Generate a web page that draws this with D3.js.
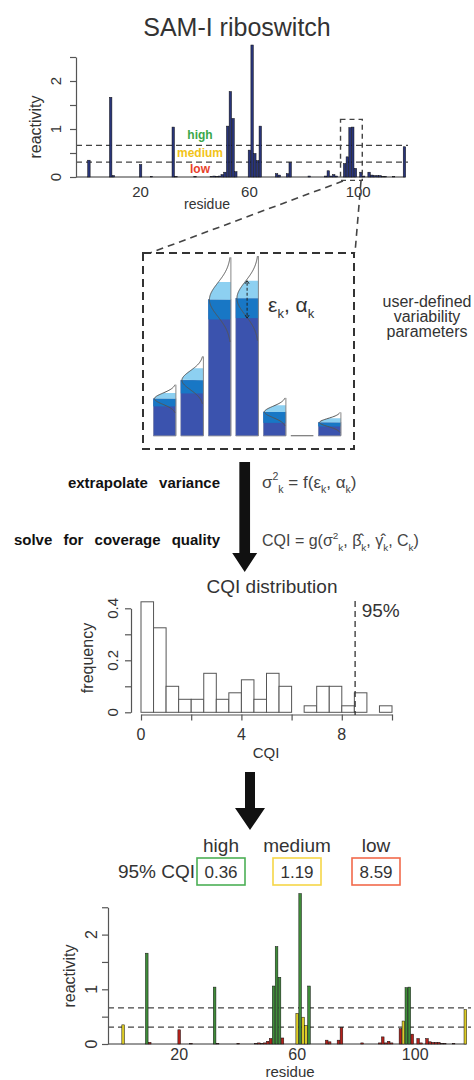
<!DOCTYPE html>
<html>
<head>
<meta charset="UTF-8">
<title>SAM-I riboswitch CQI</title>
<script src="https://d3js.org/d3.v7.min.js"></script>
<style>
  body { margin: 0; background: #fff; }
  svg text { font-family: "Liberation Sans", Arial, Helvetica, sans-serif; fill: #333; }
</style>
</head>
<body>
<svg width="474" height="1080"></svg>
<script>
// reactivity per residue, residues 1..117
var residues = d3.range(1, 118);
var reactivity = [
  0.35, 0, 0, 0, 0, 0, 0, 0, 1.66, 0.03,
  0, 0, 0, 0, 0, 0, 0, 0, 0, 0.26,
  0, 0, 0, 0.01, 0, 0, 0, 0, 0, 0,
  0, 1.04, 0.01, 0, 0, 0, 0, 0, 0, 0.01,
  0, 0, 0, 0, 0, 0.01, 0.02, 0.01, 0.02, 0.05,
  0.1, 1.06, 1.78, 1.22, 0.11, 0, 0, 0, 0, 0.56,
  2.75, 0.49, 0.34, 1.06, 0, 0, 0, 0, 0, 0.07,
  0.04, 0, 0, 0.07, 0.3, 0, 0, 0, 0, 0,
  0, 0.02, 0, 0, 0, 0, 0, 0.02, 0.13, 0.02,
  0.05, 0.02, 0, 0, 0.28, 0.42, 1.03, 1.04, 0.18, 0,
  0.1, 0.02, 0, 0.1, 0.04, 0.03, 0.03, 0.03, 0.01, 0.01,
  0, 0, 0.01, 0, 0, 0, 0.63
];
var highCut = 0.66, lowCut = 0.31;
var reactTicks = [0, 0.5, 1, 1.5, 2, 2.5];
var reactLabels = [0, 1, 2];
var residueLabels = [20, 60, 100];

// zoomed residues and their user-defined variability (reactivity units)
var insetResidues = [95, 96, 97, 98, 99, 100, 101];
var insetLight = [0.043, 0.09, 0.133, 0.133, 0.05, 0, 0.033];
var insetMid = [0.058, 0.1, 0.15, 0.15, 0.083, 0, 0.03];
var insetSpread = [0.106, 0.18, 0.32, 0.32, 0.106, 0, 0.076];

// CQI histogram, bins of 0.5 from 0 to 10
var cqiBinStarts = d3.range(0, 10, 0.5);
var cqiFreq = [0.425, 0.325, 0.1, 0.05, 0.05, 0.15, 0.05, 0.075, 0.125, 0.05,
               0.15, 0.1, 0, 0.025, 0.1, 0.1, 0.025, 0.075, 0, 0.025];
var cqi95 = 8.59;
var cqiTicks = [0, 2, 4, 6, 8, 10];
var cqiLabels = [0, 4, 8];
var freqTicks = [0, 0.1, 0.2, 0.3, 0.4];
var freqLabels = ["0", "0.2", "0.4"];

var qualityNames = ["high", "medium", "low"];
var qualityCQI = ["0.36", "1.19", "8.59"];

var svg = d3.select("svg");

function qualityColor(v) {
  if (v >= highCut) return "#3f8c39";
  if (v >= lowCut) return "#dccb26";
  return "#b5211b";
}

function rich(parent, x, y, parts, size, opts) {
  opts = opts || {};
  var t = parent.append("text").attr("x", x).attr("y", y).attr("font-size", size);
  if (opts.anchor) t.attr("text-anchor", opts.anchor);
  if (opts.fill) t.style("fill", opts.fill);
  var prev = 0;
  parts.forEach(function (p) {
    var s = p[1] === "sub" ? size * 0.3 : p[1] === "sup" ? -size * 0.45 : 0;
    t.append("tspan").text(p[0]).attr("dy", s - prev)
      .attr("font-size", p[1] ? size * 0.62 : size);
    prev = s;
  });
  return t;
}

function arrow(cx, y0, yHead, yTip, shaftW, headW) {
  svg.append("path")
    .attr("d", "M" + (cx - shaftW / 2) + "," + y0 + "H" + (cx + shaftW / 2) + "V" + yHead +
      "H" + (cx + headW / 2) + "L" + cx + "," + yTip + "L" + (cx - headW / 2) + "," + yHead +
      "H" + (cx - shaftW / 2) + "Z")
    .attr("fill", "#111");
}

function reactivityPlot(o) {
  var g = svg.append("g");
  var x = o.x, y = o.y;
  var bw = (x(2) - x(1)) * 0.9;

  [highCut, lowCut].forEach(function (c) {
    g.append("line").attr("x1", o.axisX).attr("x2", o.lineEnd)
      .attr("y1", y(c)).attr("y2", y(c))
      .attr("stroke", "#444").attr("stroke-width", 1.3).attr("stroke-dasharray", "6,4");
  });

  g.append("line").attr("x1", o.axisX).attr("x2", x(residues[residues.length - 1]) + bw / 2)
    .attr("y1", y(0)).attr("y2", y(0)).attr("stroke", "#333").attr("stroke-width", 1);

  g.selectAll("rect.bar").data(residues).join("rect")
    .attr("class", "bar")
    .attr("x", function (r) { return x(r) - bw / 2; })
    .attr("width", bw)
    .attr("y", function (r, i) { return y(reactivity[i]); })
    .attr("height", function (r, i) { return y(0) - y(reactivity[i]); })
    .attr("fill", function (r, i) { return o.color(reactivity[i]); })
    .attr("stroke", "#111").attr("stroke-width", 0.5);

  g.append("g").attr("transform", "translate(" + o.axisX + ",0)")
    .call(d3.axisLeft(y).tickValues(reactTicks).tickSize(6).tickSizeOuter(0).tickFormat(""))
    .call(function (a) { a.selectAll("path, line").attr("stroke", "#555").attr("stroke-width", 1.2); });

  reactLabels.forEach(function (v) {
    g.append("text").attr("transform", "translate(" + o.yLabX + "," + y(v) + ") rotate(-90)")
      .attr("text-anchor", "middle").attr("font-size", o.tickSize).text(v);
  });
  residueLabels.forEach(function (v) {
    g.append("text").attr("x", x(v)).attr("y", o.xLabY)
      .attr("text-anchor", "middle").attr("font-size", o.tickSize).text(v);
  });
  g.append("text").attr("transform", "translate(" + o.titleYX + "," + o.titleYY + ") rotate(-90)")
    .attr("text-anchor", "middle").attr("font-size", 16).text("reactivity");
  g.append("text").attr("x", o.titleXX).attr("y", o.titleXY)
    .attr("text-anchor", "middle").attr("font-size", o.titleXSize).text("residue");
  return g;
}

// ---- top panel
svg.append("text").attr("x", 237).attr("y", 36).attr("text-anchor", "middle")
  .attr("font-size", 25).text("SAM-I riboswitch");

var xTop = d3.scaleLinear().domain([0, 120]).range([86.2, 412.6]);
var yTop = d3.scaleLinear().domain([0, 2.5]).range([177, 57]);
var topPanel = reactivityPlot({
  x: xTop, y: yTop, axisX: 76, lineEnd: 408,
  color: function () { return "#29357a"; },
  yLabX: 61, xLabY: 197, tickSize: 15,
  titleYX: 41, titleYY: 127, titleXX: 207, titleXY: 208.5, titleXSize: 14
});

[["high", 138.5, "#3aa84a"], ["medium", 156.5, "#f2c318"], ["low", 172.5, "#e8402a"]]
  .forEach(function (d) {
    topPanel.append("text").attr("x", 200).attr("y", d[1]).attr("text-anchor", "middle")
      .attr("font-size", 12).attr("font-weight", "bold").style("fill", d[2]).text(d[0]);
  });

// zoom box and guides
topPanel.append("rect").attr("x", xTop(93.5)).attr("y", yTop(1.2))
  .attr("width", xTop(101.5) - xTop(93.5)).attr("height", yTop(-0.07) - yTop(1.2))
  .attr("fill", "none").attr("stroke", "#444").attr("stroke-width", 1.4).attr("stroke-dasharray", "5,4");
svg.append("line").attr("x1", 343).attr("y1", 181).attr("x2", 150).attr("y2", 253)
  .attr("stroke", "#444").attr("stroke-width", 1.6).attr("stroke-dasharray", "7,5");
svg.append("line").attr("x1", 361).attr("y1", 181).attr("x2", 355).attr("y2", 253)
  .attr("stroke", "#444").attr("stroke-width", 1.6).attr("stroke-dasharray", "7,5");
svg.append("rect").attr("x", 143).attr("y", 253).attr("width", 211).attr("height", 196)
  .attr("fill", "none").attr("stroke", "#333").attr("stroke-width", 2).attr("stroke-dasharray", "8,5");

// ---- inset with variability
var insetX = d3.scaleBand().domain(d3.range(insetResidues.length)).range([153.3, 340.9]).paddingInner(0.178);
var insetY = d3.scaleLinear().domain([0, 1]).range([435.7, 303.6]);
var pxPerUnit = insetY(0) - insetY(1);
var inset = svg.append("g");

insetResidues.forEach(function (r, i) {
  var v = reactivity[r - 1];
  var left = insetX(i), w = insetX.bandwidth(), right = left + w;
  var topY = insetY(v);
  inset.append("line").attr("x1", left).attr("x2", right).attr("y1", insetY(0)).attr("y2", insetY(0))
    .attr("stroke", "#777").attr("stroke-width", 1.2);
  if (v === 0) return;
  var lightPx = insetLight[i] * pxPerUnit, midPx = insetMid[i] * pxPerUnit;
  var E = insetSpread[i] * pxPerUnit, sig = E / 2.5, amp = w * 0.95;
  var cx = function (dy) { return right - amp * Math.exp(-0.5 * (dy / sig) * (dy / sig)); };

  inset.append("rect").attr("x", left).attr("y", topY).attr("width", w).attr("height", insetY(0) - topY)
    .attr("fill", "#3b53ae").attr("stroke", "#8088a8").attr("stroke-width", 0.6);
  inset.append("rect").attr("x", left).attr("y", topY).attr("width", w).attr("height", midPx)
    .attr("fill", "#1877c5");
  var lp = d3.range(-lightPx, 0.01, 0.5).map(function (dy) { return [cx(dy), topY + dy]; });
  lp.push([right, topY]); lp.push([right, topY - lightPx]);
  inset.append("path").attr("d", d3.line()(lp)).attr("fill", "#8dd0f1");
  inset.append("line").attr("x1", right).attr("x2", right).attr("y1", insetY(0)).attr("y2", topY - E)
    .attr("stroke", "#888").attr("stroke-width", 1);
  var cp = d3.range(-E, E + 0.01, 0.5).map(function (dy) { return [cx(dy), topY + dy]; });
  inset.append("path").attr("d", d3.line().curve(d3.curveBasis)(cp))
    .attr("fill", "none").attr("stroke", "#555").attr("stroke-width", 1);
  if (i === 3) {
    var mx = left + w / 2;
    inset.append("line").attr("x1", mx).attr("x2", mx).attr("y1", topY - lightPx + 2).attr("y2", topY + midPx - 2)
      .attr("stroke", "#222").attr("stroke-width", 1).attr("stroke-dasharray", "3,2");
    [[topY - lightPx, -1], [topY + midPx, 1]].forEach(function (a) {
      inset.append("path").attr("d", "M" + (mx - 2) + "," + (a[0] - a[1] * 3) + "L" + mx + "," + a[0] +
        "L" + (mx + 2) + "," + (a[0] - a[1] * 3)).attr("fill", "none").attr("stroke", "#222").attr("stroke-width", 1);
    });
  }
});

rich(svg, 268, 312, [["ε"], ["k", "sub"], [", α"], ["k", "sub"]], 21);

["user-defined", "variability", "parameters"].forEach(function (s, i) {
  svg.append("text").attr("x", 427).attr("y", 307 + i * 15).attr("text-anchor", "middle")
    .attr("font-size", 16).text(s);
});

// ---- first arrow and formulas
arrow(244.7, 462, 553, 572, 10.7, 25);
svg.append("text").attr("x", 220).attr("y", 488).attr("text-anchor", "end")
  .attr("font-size", 15).attr("font-weight", "bold").attr("word-spacing", 7)
  .style("fill", "#111").text("extrapolate variance");
svg.append("text").attr("x", 220).attr("y", 545).attr("text-anchor", "end")
  .attr("font-size", 15).attr("font-weight", "bold").attr("word-spacing", 7)
  .style("fill", "#111").text("solve for coverage quality");
rich(svg, 262, 488, [["σ"], ["2", "sup"], ["k", "sub"], [" = f(ε"], ["k", "sub"], [", α"], ["k", "sub"], [")"]], 17, { fill: "#444" });
rich(svg, 262, 546, [["CQI = g(σ"], ["2", "sup"], ["k", "sub"], [", β\u0302"], ["k", "sub"], [", γ\u0302"], ["k", "sub"], [", C"], ["k", "sub"], [")"]], 16, { fill: "#444" });

// ---- CQI histogram
svg.append("text").attr("x", 272).attr("y", 593).attr("text-anchor", "middle")
  .attr("font-size", 19).text("CQI distribution");
var xh = d3.scaleLinear().domain([0, 10]).range([141, 392]);
var yh = d3.scaleLinear().domain([0, 0.4]).range([712.3, 608.3]);
var hist = svg.append("g");
hist.selectAll("rect").data(cqiBinStarts).join("rect")
  .attr("x", function (b) { return xh(b); })
  .attr("width", function (b) { return xh(b + 0.5) - xh(b); })
  .attr("y", function (b, i) { return yh(cqiFreq[i]); })
  .attr("height", function (b, i) { return yh(0) - yh(cqiFreq[i]); })
  .attr("fill", "#fff").attr("stroke", "#555").attr("stroke-width", 1)
  .filter(function (b, i) { return cqiFreq[i] === 0; }).remove();
hist.append("g").attr("transform", "translate(0,714.5)")
  .call(d3.axisBottom(xh).tickValues(cqiTicks).tickSize(6).tickSizeOuter(0).tickFormat(""))
  .call(function (a) { a.selectAll("path, line").attr("stroke", "#555").attr("stroke-width", 1.2); });
hist.append("g").attr("transform", "translate(131,0)")
  .call(d3.axisLeft(yh).tickValues(freqTicks).tickSize(6).tickSizeOuter(0).tickFormat(""))
  .call(function (a) { a.selectAll("path, line").attr("stroke", "#555").attr("stroke-width", 1.2); });
cqiLabels.forEach(function (v) {
  hist.append("text").attr("x", xh(v)).attr("y", 740).attr("text-anchor", "middle")
    .attr("font-size", 16).text(v);
});
freqLabels.forEach(function (v) {
  hist.append("text").attr("transform", "translate(118.4," + yh(+v) + ") rotate(-90)")
    .attr("text-anchor", "middle").attr("font-size", 15).text(v);
});
hist.append("text").attr("transform", "translate(93,658) rotate(-90)")
  .attr("text-anchor", "middle").attr("font-size", 16).text("frequency");
hist.append("text").attr("x", 266).attr("y", 758).attr("text-anchor", "middle")
  .attr("font-size", 15).text("CQI");
hist.append("line").attr("x1", xh(cqi95) - 1.5).attr("x2", xh(cqi95) - 1.5).attr("y1", 601).attr("y2", 715)
  .attr("stroke", "#333").attr("stroke-width", 1.3).attr("stroke-dasharray", "6,4");
hist.append("text").attr("x", 361.7).attr("y", 617).attr("font-size", 19).text("95%");

// ---- second arrow and CQI thresholds
arrow(250, 772, 808, 830, 10, 30);
var boxX = [197, 273, 352], boxW = 48;
var boxColors = ["#4caf55", "#f5d648", "#f26a4b"];
qualityNames.forEach(function (n, i) {
  svg.append("text").attr("x", boxX[i] + boxW / 2).attr("y", 852).attr("text-anchor", "middle")
    .attr("font-size", 19).text(n);
  svg.append("rect").attr("x", boxX[i]).attr("y", 858).attr("width", boxW).attr("height", 27)
    .attr("fill", "#fff").attr("stroke", boxColors[i]).attr("stroke-width", 1.6);
  svg.append("text").attr("x", boxX[i] + boxW / 2).attr("y", 878).attr("text-anchor", "middle")
    .attr("font-size", 17).text(qualityCQI[i]);
});
svg.append("text").attr("x", 195).attr("y", 878).attr("text-anchor", "end")
  .attr("font-size", 19).text("95% CQI");

// ---- bottom panel, coloured by quality
var xBot = d3.scaleLinear().domain([0, 120]).range([120.2, 474.2]);
var yBot = d3.scaleLinear().domain([0, 2.5]).range([1044, 907.25]);
reactivityPlot({
  x: xBot, y: yBot, axisX: 108, lineEnd: 471,
  color: qualityColor,
  yLabX: 96.5, xLabY: 1059.5, tickSize: 16,
  titleYX: 75, titleYY: 976, titleXX: 290, titleXY: 1077, titleXSize: 15
});
</script>
</body>
</html>
